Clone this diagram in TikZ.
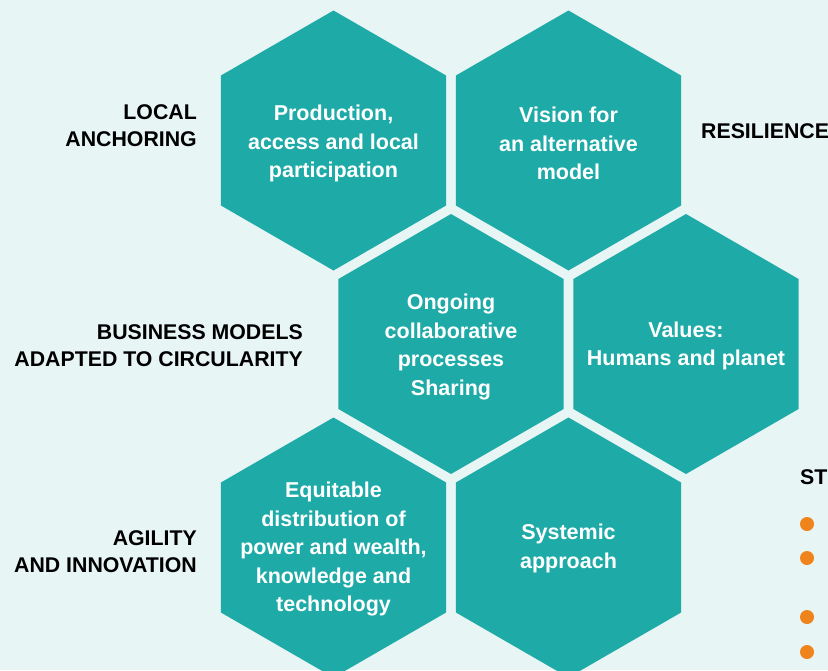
\documentclass[tikz,border=0pt]{standalone}
\usepackage{fontspec}
\setmainfont{Liberation Sans}
\usetikzlibrary{shapes.geometric}
\definecolor{bgc}{HTML}{E8F5F5}
\definecolor{hexc}{HTML}{1EABA8}
\definecolor{dotc}{HTML}{F0841C}
\tikzset{
  hexa/.style={regular polygon, regular polygon sides=6, shape border rotate=30,
    minimum size=260pt, inner sep=0pt, outer sep=0pt, fill=hexc, draw=none},
  hextext/.style={text=white, font=\bfseries\fontsize{21.5}{28.5}\selectfont,
    align=center, inner sep=0pt},
  lbl/.style={font=\bfseries\fontsize{21.3}{27}\selectfont, inner sep=0pt, text=black},
  odot/.style={circle, fill=dotc, minimum size=14pt, inner sep=0pt, draw=none}
}
\begin{document}
\begin{tikzpicture}[x=1pt,y=-1pt]
\path[use as bounding box, fill=bgc] (0,0) rectangle (828,670);
\clip (0,0) rectangle (828,670);
% hexagons
\node[hexa] (h1) at (333.5,140.5) {};
\node[hexa] (h2) at (568.5,140.5) {};
\node[hexa] (h3) at (451,344) {};
\node[hexa] (h4) at (686,344) {};
\node[hexa] (h5) at (333.5,547.5) {};
\node[hexa] (h6) at (568.5,547.5) {};
% hexagon texts
\node[hextext] (t1) at (333.5,143.5) {Production,\\access and local\\participation};
\node[hextext] (t2) at (568.5,143.5) {Vision for\\an alternative\\model};
\node[hextext] (t3) at (451,347) {Ongoing\\collaborative\\processes\\Sharing};
\node[hextext] (t4) at (686,346) {Values:\\Humans and planet};
\node[hextext] (t5) at (333.5,549) {Equitable\\distribution of\\power and wealth,\\knowledge and\\technology};
\node[hextext] (t6) at (568.5,548.5) {Systemic\\approach};
% side labels
\node[lbl, anchor=east, align=right] (l1) at (197,126) {LOCAL\\ANCHORING};
\node[lbl, anchor=east, align=right] (l2) at (303,345.5) {BUSINESS MODELS\\ADAPTED TO CIRCULARITY};
\node[lbl, anchor=east, align=right] (l3) at (197,552) {AGILITY\\AND INNOVATION};
\node[lbl, anchor=west] (l4) at (701,131) {RESILIENCE};
\node[lbl, anchor=west] (l5) at (800,477) {ST};
% bullets
\node[odot] (d1) at (807,524) {};
\node[odot] (d2) at (807,558) {};
\node[odot] (d3) at (807,617) {};
\node[odot] (d4) at (807,652) {};
\end{tikzpicture}
\end{document}
